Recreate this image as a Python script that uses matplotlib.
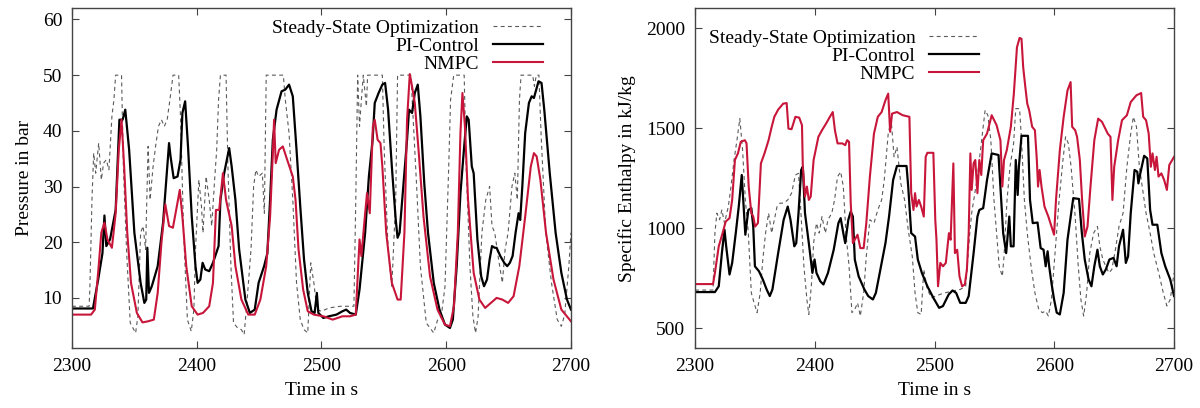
import matplotlib
matplotlib.use("Agg")
import matplotlib.pyplot as plt

plt.rcParams['font.family'] = ['Liberation Serif', 'DejaVu Serif']

# ---------------- Left panel: Pressure ----------------
p_ss_t = [2300, 2313.7, 2314.3, 2316, 2317.4, 2319, 2321.4, 2323.5, 2325.3, 2327.5, 2329.6, 2332, 2333.6, 2335, 2339.7,
          2341.2, 2343.7, 2346.7, 2348.8, 2351, 2352.8, 2355, 2357, 2359, 2361, 2362.6, 2365, 2367, 2369.3, 2371.7, 2374,
          2376.3, 2378.5, 2381, 2385.5, 2387, 2389.5, 2392.5, 2395.6, 2397.7, 2399, 2401.7, 2403.8, 2405, 2407.5, 2410,
          2412, 2414.5, 2416, 2417.5, 2419, 2423.5, 2425, 2427.4, 2429.5, 2432.8, 2435.8, 2438, 2440.4, 2443.5, 2445.6,
          2447.4, 2449.6, 2452.6, 2454.2, 2455.7, 2469.4, 2471, 2474, 2477, 2480, 2483, 2486, 2489, 2491.4, 2493.9, 2496.3,
          2500, 2506, 2515.2, 2526, 2527.5, 2529, 2530.5, 2532, 2533.5, 2536, 2537, 2548.8, 2550.3, 2553.4, 2556.4, 2559.5,
          2561, 2571.7, 2576.3, 2579.3, 2584, 2587, 2590, 2593, 2596, 2599, 2602, 2603.5, 2606, 2614.4, 2616, 2619, 2621.4,
          2623.5, 2625.5, 2628.6, 2631.7, 2634.8, 2636.7, 2638.9, 2642, 2645, 2647.2, 2649.6, 2652.7, 2655, 2657, 2658.7,
          2660, 2669.3, 2670.7, 2672.2, 2674.3, 2676, 2679.8, 2684.4, 2689, 2692.3, 2695, 2698.3, 2700]
p_ss_v = [8.5, 8.5, 11.5, 27.6, 36, 32.4, 37.8, 31.2, 34.2, 34.8, 33, 42.6, 45.6, 50, 50,
          33.6, 18.7, 5.5, 4.6, 3.7, 6.7, 21.7, 22.9, 18.7, 37.2, 27.6, 33.6, 37.2, 40.8, 42, 40.8,
          42, 45.6, 50, 50, 42.6, 21.7, 6.1, 4.0, 7.9, 18.7, 31.2, 26.4, 21.7, 31.8, 27.6,
          22.9, 31.8, 36.6, 45.6, 50, 50, 33.6, 15.7, 5.5, 4.6, 4.3, 3.4, 9.7, 18.7, 30,
          33, 31.8, 32.4, 25.2, 50, 50, 45.6, 39.6, 27.6, 12.7, 6.1, 4.3, 3.7, 16.3, 12.7, 7.9,
          7.6, 8.2, 8.5, 8.5, 27.6, 50, 40.8, 45.6, 50, 44.4, 50, 50, 36.6, 18.7, 12.1, 27.6,
          50, 50, 30, 15.7, 5.5, 4.6, 3.7, 6.0, 6.7, 12.0, 33.6, 45.6, 50, 50, 33.6, 15.7, 6.7,
          3.7, 6.5, 21.7, 27.6, 30, 22.9, 21.7, 16.9, 12.7, 18.7, 21.7, 30, 32.4, 27.6, 45.6,
          50, 50, 48, 50, 50, 39.6, 21.7, 12.7, 6.1, 4.9, 7.0, 15.7, 21.7]

p_pi_t = [2300, 2316.8, 2321, 2324.4, 2326, 2327.5, 2330.5, 2335, 2338, 2340.6, 2342.7, 2345.8, 2350, 2355, 2358,
          2359.5, 2360.4, 2361.7, 2364, 2368.7, 2373, 2375.4, 2377.8, 2379, 2381.5, 2384.6, 2387, 2388.5, 2390.7, 2393,
          2396, 2399, 2400.7, 2402.9, 2404.7, 2406.8, 2410, 2413, 2417.5, 2419, 2422, 2426, 2428, 2431, 2434, 2439,
          2442.6, 2446.5, 2449.6, 2454, 2456.6, 2458.8, 2461, 2464, 2468, 2471, 2474, 2477, 2480, 2483, 2486, 2489,
          2492, 2494.5, 2496.3, 2497.5, 2501.5, 2506, 2512, 2516.8, 2519.8, 2522.9, 2527.5, 2530.5, 2535, 2538, 2541,
          2542.7, 2545.8, 2548.8, 2551, 2553.4, 2556.4, 2559.5, 2561, 2562.6, 2565.6, 2568.6, 2570.2, 2572.6, 2574.8,
          2577.2, 2579.3, 2582.4, 2585.4, 2590, 2594.6, 2599, 2603, 2605.3, 2608.4, 2611.4, 2614.4, 2616.5, 2618,
          2620.5, 2622, 2625, 2628, 2630.3, 2632.7, 2634.8, 2636.7, 2638.9, 2640.4, 2643.4, 2646.5, 2648.9, 2651,
          2653.2, 2655.6, 2658, 2659.3, 2661, 2663.3, 2666.3, 2668.5, 2670.3, 2672.5, 2674, 2676.4, 2678.6, 2683,
          2687.7, 2692.3, 2696.8, 2700]
p_pi_v = [8.1, 8.1, 13.3, 18, 24.8, 19.3, 20.5, 25.8, 42, 42, 43.8, 36.6, 21.7, 12.7, 9.1,
          9.7, 19, 10.9, 12.1, 15.7, 23.5, 30.6, 37.8, 35.4, 31.5, 31.8, 34.8, 43.2, 45.3, 37.2,
          24.6, 15.7, 12.7, 13.3, 16.3, 15.1, 14.8, 16.3, 19.3, 27.6, 32.4, 36.9, 33.6, 27.6, 18.7, 9.7,
          7.3, 7.9, 12.7, 15.7, 18, 27.6, 38.4, 43.8, 47.1, 47.4, 48.3, 46.2, 36.6, 26.4, 16.9, 10.9,
          7.6, 7.3, 10.9, 7.3, 6.4, 6.7, 7.0, 7.6, 7.9, 7.3, 7.0, 11.5, 21.7, 31.8, 38.4,
          45, 46.8, 48.3, 48.6, 43.8, 33.6, 24.1, 20.8, 21.7, 30, 38.4, 43.8, 43.2, 46.8,
          48.3, 42.6, 30.6, 21.7, 12.7, 7.9, 5.2, 4.6, 6.1, 15.7, 28.8, 37.2, 42.6, 42,
          33.6, 32.4, 20.5, 13.9, 12.1, 13.3, 16.9, 19.3, 19, 19, 17.5, 16.3, 15.7, 16.3,
          17.5, 21.7, 25.2, 24, 30, 39.6, 45, 46.2, 45.9, 47.7, 48.9, 48.6, 43.8, 32.4,
          21.7, 14.5, 9.7, 7.9]

p_nm_t = [2300, 2315.3, 2318.3, 2321.4, 2323.5, 2326, 2328.4, 2332, 2335, 2337.5, 2339.7, 2341.8, 2344.3, 2347.3,
          2352, 2356.5, 2361, 2365.6, 2368.7, 2371.7, 2374.8, 2377.8, 2380.9, 2384, 2386.4, 2388.5, 2391.6, 2396,
          2400.7, 2405, 2410, 2413, 2415.4, 2418, 2421, 2423.5, 2428, 2431, 2435.8, 2441.3, 2446.5, 2451, 2455.7,
          2458.8, 2461, 2462, 2463.3, 2466, 2469, 2472.5, 2477, 2479.2, 2481.6, 2485.3, 2489, 2493.9, 2501.5, 2509,
          2516.8, 2522.9, 2527.5, 2530.5, 2532, 2535, 2536.5, 2538.7, 2541.2, 2542.7, 2545, 2547.3, 2548.8, 2551.9,
          2556.4, 2561, 2563.5, 2566.5, 2568.6, 2570.8, 2572.6, 2574.8, 2577.8, 2581.8, 2587, 2593, 2599, 2603,
          2606.2, 2609.3, 2611.4, 2613, 2615, 2617.5, 2622, 2626.6, 2631.2, 2635.8, 2640.4, 2645, 2649.6, 2654,
          2658.6, 2663.3, 2667.8, 2670.3, 2672.5, 2675.5, 2680, 2686, 2692.3, 2700]
p_nm_v = [7.0, 7.0, 7.9, 15.7, 21.7, 23.5, 20.5, 19, 25.2, 36.6, 42, 33.6, 21.7, 12.7,
          7.3, 5.6, 5.8, 6.1, 10.9, 19.9, 26.8, 22.9, 22.6, 26.4, 29.4, 24.6, 15.7, 8.5,
          7.0, 7.3, 8.5, 12.7, 25.8, 25.8, 32.4, 27.6, 22.9, 15.7, 9.7, 7.0, 7.0, 9.7, 15.7,
          24.6, 36, 42, 34.2, 36.6, 37.2, 34.8, 31.8, 27.6, 18.7, 11.5, 7.6, 7.0, 6.7, 6.1,
          6.7, 6.7, 7.0, 20.5, 17.5, 25.2, 28.8, 25.2, 40.8, 42, 38.4, 37.8, 33.6, 21.7,
          12.7, 9.7, 9.7, 21.7, 42, 50.2, 48, 45, 36.6, 24.6, 13.9, 7.9, 5.2, 4.9,
          8.5, 21.7, 39.6, 46.8, 40.8, 27.6, 14.5, 9.7, 8.2, 9.1, 10, 9.7, 9.1, 10.3,
          15.7, 24.6, 33.6, 36, 35.4, 31.2, 21.7, 13.3, 7.9, 5.8]

# ---------------- Right panel: Specific enthalpy ----------------
h_ss_t = [2300, 2315, 2316.6, 2318.2, 2320.5, 2322.4, 2324.6, 2327.8, 2330, 2332.6, 2335, 2337.4, 2339.7, 2342,
          2344.5, 2347, 2349.3, 2351.8, 2354.4, 2356.6, 2358.9, 2361.4, 2364, 2366.2, 2368.5, 2371, 2374, 2377.4,
          2380.6, 2383.8, 2386.4, 2388.6, 2390.9, 2393.4, 2395, 2397.3, 2399, 2401.4, 2403.7, 2406, 2408.8, 2411,
          2414.2, 2416.5, 2419, 2421.6, 2423.8, 2426, 2428.6, 2431, 2433.4, 2435.7, 2438, 2440.8, 2443, 2446, 2449.4,
          2452.6, 2455.8, 2458, 2461.3, 2463.8, 2466.2, 2468.6, 2471.8, 2475, 2478, 2481.4, 2483.7, 2486, 2488.8,
          2491, 2494, 2497.4, 2502, 2508.6, 2515, 2521.4, 2526, 2529.4, 2531, 2533.6, 2535.8, 2539, 2542.2, 2544.5,
          2547, 2549.6, 2551.8, 2554, 2556.6, 2558, 2560.5, 2563, 2566, 2567.8, 2571, 2572.6, 2575, 2577.4, 2580.6,
          2583.8, 2587, 2590, 2592.8, 2595, 2597.6, 2600.8, 2604, 2607.2, 2609.4, 2611.7, 2614, 2617.4, 2620, 2622.2,
          2624.5, 2627, 2629.6, 2632.8, 2636, 2638, 2640.5, 2643, 2645.6, 2648, 2651, 2654, 2657.4, 2660.6, 2663.8,
          2666, 2668.6, 2671, 2673.4, 2676.6, 2680, 2683, 2687.2, 2691, 2694, 2696.8, 2700]
h_ss_v = [690, 690, 975, 1075, 1042, 1091, 1025, 1108, 1208, 1341, 1440, 1548, 1390, 1141,
          975, 676, 626, 577, 676, 843, 975, 1075, 975, 1042, 1108, 1125, 1125, 1141,
          1175, 1266, 1274, 1058, 809, 643, 568, 726, 925, 1025, 975, 1058, 975, 1042,
          1075, 1141, 1258, 1282, 1208, 975, 809, 577, 593, 626, 560, 676, 859, 1042, 1025,
          1091, 1141, 1241, 1473, 1540, 1357, 1407, 1224, 1141, 992, 859, 676, 577, 568,
          793, 693, 651, 663, 676, 685, 693, 709, 975, 1075, 1175, 1258, 1424, 1590, 1565,
          1440, 1141, 975, 809, 759, 859, 1141, 1307, 1424, 1598, 1598, 1440, 1141, 975, 809,
          676, 593, 577, 585, 560, 643, 892, 1141, 1341, 1457, 1424, 1307, 1058, 809, 643,
          560, 676, 875, 975, 1008, 909, 843, 809, 776, 793, 892, 1008, 1075, 1307, 1473,
          1557, 1507, 1307, 1208, 1075, 975, 875, 776, 676, 610, 643, 776]

h_pi_t = [2300, 2316.6, 2319.8, 2322.4, 2324.6, 2326, 2328.8, 2331, 2334, 2336.5, 2339, 2340.6, 2342, 2344.5,
          2347, 2348.6, 2350, 2353.4, 2356.6, 2359.8, 2362.4, 2364.6, 2369.4, 2374, 2377.4, 2379.7, 2382.9, 2384.5,
          2386.4, 2388.6, 2390, 2391.8, 2395, 2398, 2399.8, 2401.4, 2404.6, 2407.2, 2411, 2415.8, 2419.7, 2421.6,
          2423.8, 2425.4, 2428, 2430, 2431.8, 2433.4, 2436.6, 2441.4, 2444.6, 2448.5, 2451, 2454.2, 2459, 2462,
          2465.4, 2468.6, 2476.6, 2478, 2480.5, 2483.7, 2486, 2489.4, 2494, 2499, 2503.8, 2507, 2511.8, 2515, 2518,
          2521.4, 2526, 2528.5, 2532.6, 2535.8, 2537.4, 2540.6, 2543.8, 2547.7, 2553.4, 2555, 2557.3, 2559.8, 2562.4,
          2563.7, 2566, 2567.8, 2569.4, 2570.4, 2572.6, 2578, 2579.7, 2582, 2586, 2588.6, 2591, 2592.8, 2594.4,
          2595.7, 2597.6, 2599.8, 2602, 2604.6, 2607.8, 2611, 2615.8, 2620.6, 2623, 2625.4, 2628.6, 2631, 2633.4,
          2636, 2638, 2640.5, 2643, 2646, 2649.4, 2652, 2654, 2657.4, 2659.7, 2661.6, 2663.8, 2667, 2669.3, 2670.2,
          2671.8, 2675, 2677.6, 2680, 2682, 2686, 2689.4, 2692.6, 2696.8, 2700]
h_pi_v = [680, 680, 709, 875, 992, 909, 768, 826, 975, 1108, 1266, 1108, 967, 1091,
          1100, 1008, 809, 784, 743, 693, 660, 693, 875, 1042, 1108, 1042, 909, 925,
          1075, 1291, 1307, 1075, 925, 776, 843, 776, 734, 718, 776, 892, 1025, 1050,
          975, 925, 1042, 1083, 1058, 843, 759, 693, 660, 643, 676, 776, 925, 1058,
          1241, 1311, 1311, 1208, 975, 958, 843, 776, 709, 651, 601, 610, 668, 688, 676,
          626, 626, 660, 875, 1058, 1091, 1100, 1241, 1374, 1366, 1208, 975, 875, 1058,
          909, 909, 1341, 1166, 1307, 1462, 1462, 1141, 1025, 1028, 900, 892, 809, 884,
          809, 726, 643, 577, 568, 676, 942, 1150, 1146, 975, 843, 743, 709, 809,
          892, 809, 768, 793, 843, 851, 809, 909, 992, 826, 859, 1075, 1291, 1282, 1224,
          1274, 1362, 1349, 1091, 1017, 1017, 875, 809, 743, 660]

h_nm_t = [2300, 2315, 2316.6, 2319.8, 2323, 2325.6, 2328.8, 2331, 2333.3, 2335.8, 2338.2, 2341.6, 2343, 2344.8,
          2347, 2348.6, 2350.2, 2352.5, 2355, 2358, 2361.4, 2364, 2366.2, 2369.4, 2373.6, 2376.5, 2378, 2380.6,
          2383.8, 2387, 2389.3, 2390, 2391.8, 2393.4, 2395, 2396.6, 2399, 2403, 2406, 2409.4, 2412.6, 2415, 2416.8,
          2419, 2423, 2425.4, 2427, 2428.6, 2430, 2431.8, 2433.4, 2435.7, 2438, 2440.8, 2443, 2446, 2449.4, 2452.6,
          2455.8, 2459, 2461.3, 2462.9, 2464.5, 2468.6, 2473.4, 2479, 2480.5, 2482.4, 2483.7, 2485, 2486.9, 2488.8,
          2491, 2492.6, 2494, 2499, 2500.6, 2501.6, 2502.9, 2504.8, 2507, 2509.4, 2512, 2513.4, 2515.7, 2517, 2518.9,
          2520.8, 2523, 2525.3, 2527, 2528.5, 2529.9, 2531, 2532.6, 2534, 2535.8, 2537.4, 2539, 2540.6, 2543.8,
          2547.7, 2551.8, 2555, 2556.6, 2558, 2560.3, 2563.7, 2566.2, 2568.8, 2571, 2572.6, 2574, 2575.8, 2577.4,
          2579, 2581.5, 2583.8, 2585.4, 2586.4, 2587.7, 2589.3, 2591.8, 2595, 2599.8, 2601.4, 2604.6, 2607.8, 2611,
          2613.6, 2614.9, 2617.4, 2619, 2621.3, 2623.2, 2625.4, 2627.7, 2630.2, 2633.4, 2636.6, 2639.8, 2644.6,
          2646.9, 2648.5, 2650, 2653.3, 2656.5, 2660.6, 2663.8, 2668.6, 2672.5, 2674.2, 2676.6, 2678.8, 2680.6, 2682,
          2684, 2685.4, 2687, 2689.4, 2691.7, 2694, 2696, 2700]
h_nm_v = [720, 720, 776, 909, 975, 1033, 1050, 1141, 1341, 1374, 1432, 1440, 1424, 1208,
          1075, 1058, 1008, 1025, 1324, 1374, 1440, 1507, 1557, 1593, 1623, 1626, 1498, 1495,
          1557, 1553, 1515, 1307, 1158, 1208, 1141, 1158, 1341, 1457, 1490, 1523, 1557, 1581, 1490,
          1424, 1424, 1415, 1440, 1432, 1125, 925, 942, 967, 900, 900, 1025, 1258, 1473, 1557,
          1581, 1640, 1673, 1482, 1573, 1581, 1565, 1557, 1175, 1091, 1175, 1108, 1141, 1108,
          1058, 1357, 1377, 1377, 1042, 942, 709, 826, 809, 826, 975, 942, 1324, 875, 892,
          759, 709, 718, 793, 975, 1374, 1191, 1324, 1341, 1175, 1341, 1266, 1440, 1473,
          1565, 1515, 1440, 1208, 1341, 1390, 1507, 1673, 1905, 1952, 1947, 1806, 1706, 1623,
          1590, 1507, 1490, 1341, 1208, 1291, 1208, 1108, 1058, 967, 1141, 1390, 1557, 1689,
          1731, 1507, 1490, 1457, 1341, 1141, 958, 1008, 1208, 1440, 1548, 1532, 1473,
          1457, 1141, 1307, 1440, 1540, 1565, 1631, 1665, 1676, 1557, 1540, 1473, 1307, 1374,
          1291, 1357, 1258, 1274, 1241, 1191, 1316, 1357]

x_ticks = [2300, 2400, 2500, 2600, 2700]
p_ticks = [10, 20, 30, 40, 50, 60]
h_ticks = [500, 1000, 1500, 2000]

labels = ["Steady-State Optimization", "PI-Control", "NMPC"]
RED = "#C8163A"
GRAY = "#5a5a5a"
SPINE = "#444444"
FS = 14

fig = plt.figure(figsize=(12, 4.08), dpi=100)
ax1 = fig.add_axes([0.06, 0.147, 0.4158, 0.8326])
ax2 = fig.add_axes([0.5792, 0.147, 0.3992, 0.8326])

def style(ax):
    for s in ax.spines.values():
        s.set_color(SPINE)
        s.set_linewidth(1.0)
    ax.tick_params(direction='in', top=True, right=True, length=5, width=0.8,
                   color=SPINE, labelsize=FS, pad=7)

# Left
ax1.plot(p_ss_t, p_ss_v, color=GRAY, lw=0.8, ls=(0, (3.5, 3)), label=labels[0])
ax1.plot(p_pi_t, p_pi_v, color="black", lw=1.6, label=labels[1])
ax1.plot(p_nm_t, p_nm_v, color=RED, lw=1.5, label=labels[2])
ax1.set_xlim(2300, 2700)
ax1.set_ylim(1.0, 62)
ax1.set_xticks(x_ticks)
ax1.set_yticks(p_ticks)
ax1.set_xlabel("Time in s", fontsize=FS, labelpad=5)
ax1.set_ylabel("Pressure in bar", fontsize=FS, labelpad=7)
style(ax1)
ax1.legend(loc='upper right', bbox_to_anchor=(0.96, 0.99), borderaxespad=0, frameon=False,
           markerfirst=False, handlelength=2.6, handletextpad=0.7, labelspacing=0.02, fontsize=FS)

# Right
ax2.plot(h_ss_t, h_ss_v, color=GRAY, lw=0.8, ls=(0, (3.5, 3)), label=labels[0])
ax2.plot(h_pi_t, h_pi_v, color="black", lw=1.6, label=labels[1])
ax2.plot(h_nm_t, h_nm_v, color=RED, lw=1.5, label=labels[2])
ax2.set_xlim(2300, 2700)
ax2.set_ylim(400, 2100)
ax2.set_xticks(x_ticks)
ax2.set_yticks(h_ticks)
ax2.set_xlabel("Time in s", fontsize=FS, labelpad=5)
ax2.set_ylabel("Specific Enthalpy in kJ/kg", fontsize=FS, labelpad=7)
style(ax2)
ax2.legend(loc='upper right', bbox_to_anchor=(0.61, 0.962), borderaxespad=0, frameon=False,
           markerfirst=False, handlelength=2.6, handletextpad=0.7, labelspacing=0.02, fontsize=FS)

fig.savefig("out.png", dpi=100)
